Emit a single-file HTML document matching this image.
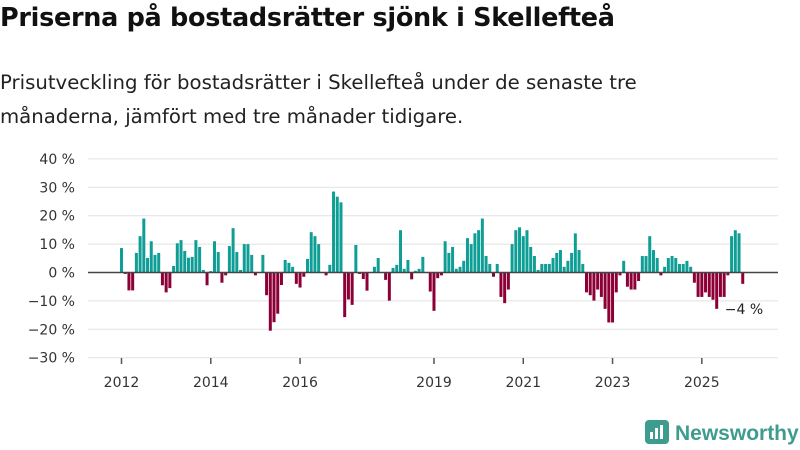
<!DOCTYPE html>
<html><head><meta charset="utf-8"><style>
body{margin:0;width:800px;height:450px;background:#fff;font-family:"DejaVu Sans","Liberation Sans",sans-serif;overflow:hidden;position:relative}
#title{position:absolute;left:0;top:3px;font-size:25.5px;font-weight:bold;color:#111;letter-spacing:-0.3px;white-space:nowrap}
#sub{position:absolute;left:0;top:66px;font-size:19.7px;line-height:34px;color:#222;width:790px;white-space:nowrap}
#logo{position:absolute;left:645px;top:420px;font-size:21px;font-weight:bold;color:#3d9c8e;white-space:nowrap;font-family:"Liberation Sans",sans-serif}
</style></head><body>
<div id="title">Priserna på bostadsrätter sjönk i Skellefteå</div>
<div id="sub">Prisutveckling för bostadsrätter i Skellefteå under de senaste tre<br>månaderna, jämfört med tre månader tidigare.</div>
<svg id="chart" width="800" height="450" style="position:absolute;left:0;top:0"></svg>
<div id="logo"><svg width="24" height="24" style="vertical-align:-4px;margin-right:6px"><rect x="0" y="0" width="24" height="24" rx="4" fill="#3d9c8e"/><rect x="5" y="12" width="3" height="7" fill="#fff"/><rect x="10" y="8" width="3" height="11" fill="#fff"/><rect x="15" y="5" width="3" height="14" fill="#fff"/></svg>Newsworthy</div>
<script>
const values=[8.6,-0.5,-6.3,-6.3,6.9,12.8,19,5.1,11,6.2,6.9,-4.5,-7,-5.5,2.3,10.3,11.4,7.6,5.2,5.5,11.4,9,0.9,-4.5,0.5,11,7.2,-3.6,-1,9.3,15.6,7.2,0.9,10,10,6.2,-1,0,6.2,-8,-20.5,-17.5,-14.5,-4.4,4.4,3.4,2,-4,-5.3,-1.5,4.8,14.2,12.8,10,0,-1,2.7,28.5,26.7,24.7,-15.7,-9.5,-11.4,9.7,-0.5,-2.3,-6.4,0,2,5.1,0,-2.6,-9.9,1.6,2.7,14.9,1.3,4.4,-2.4,0.6,1.3,5.5,0,-6.7,-13.5,-2,-1,11,6.9,9,1.3,2,4.1,12.1,10,13.8,14.9,19,5.8,3,-1.5,3,-8.6,-10.8,-6,10,14.9,15.9,12.8,14.9,9,5.8,0.9,3,3,3,5.1,6.9,7.9,2,4.1,6.9,13.8,7.9,3,-7,-8,-9.9,-6,-8.6,-12.8,-17.6,-17.6,-7,-1,4.1,-5,-6,-6,-3,5.8,5.8,12.8,7.9,5.1,-1,2,5.1,5.8,5.1,3,3,4.1,2,-3.6,-8.6,-8.6,-7,-8.6,-9.6,-12.8,-8.6,-8.6,-1,12.8,14.9,13.8,-4];
const yTicks=[40,30,20,10,0,-10,-20,-30];
const yearLabels=["2012","2014","2016","2019","2021","2023","2025"];
const yearIdx=[0,24,48,84,108,132,156];
const lastLabel="−4 %";
const NS="http://www.w3.org/2000/svg";
const svg=document.getElementById('chart');
const FONT='DejaVu Sans, Liberation Sans, sans-serif';
const y=v=>272.5-v*2.84;
const x=i=>121.5+i*3.72;
function mk(t,a){const e=document.createElementNS(NS,t);for(const k in a)e.setAttribute(k,a[k]);svg.appendChild(e);return e;}
yTicks.forEach(t=>{
 const g=mk('line',{x1:88,x2:778,y1:y(t),y2:y(t),stroke:'#e2e2e2','stroke-width':1});
 
 
 const l=mk('text',{x:75,y:y(t)+5,'text-anchor':'end','font-size':14,fill:'#333','font-family':FONT});
 l.textContent=(t<0?'−'+(-t):t)+' %';
 
 
});
values.forEach((v,i)=>{
 const r=mk('rect',{x:x(i)-1.5,width:3,y:Math.min(y(v),y(0)),height:Math.abs(y(v)-y(0)),fill:v>=0?'#0f9e96':'#8c0037'});
 
 
});
const z=mk('line',{x1:88,x2:778,y1:y(0),y2:y(0),stroke:'#444','stroke-width':1.5});


yearIdx.forEach((idx,k)=>{
 const t=mk('line',{x1:x(idx),x2:x(idx),y1:358,y2:364,stroke:'#555','stroke-width':1.5});
 
 
 const l=mk('text',{x:x(idx),y:387,'text-anchor':'middle','font-size':14,fill:'#333','font-family':FONT});
 l.textContent=yearLabels[k];
 
 
});
const n=values.length-1;
const ll=mk('text',{x:x(n)-18,y:y(values[n])+30,'font-size':14,fill:'#222','font-family':FONT});
ll.textContent=lastLabel;


</script>
</body></html>
